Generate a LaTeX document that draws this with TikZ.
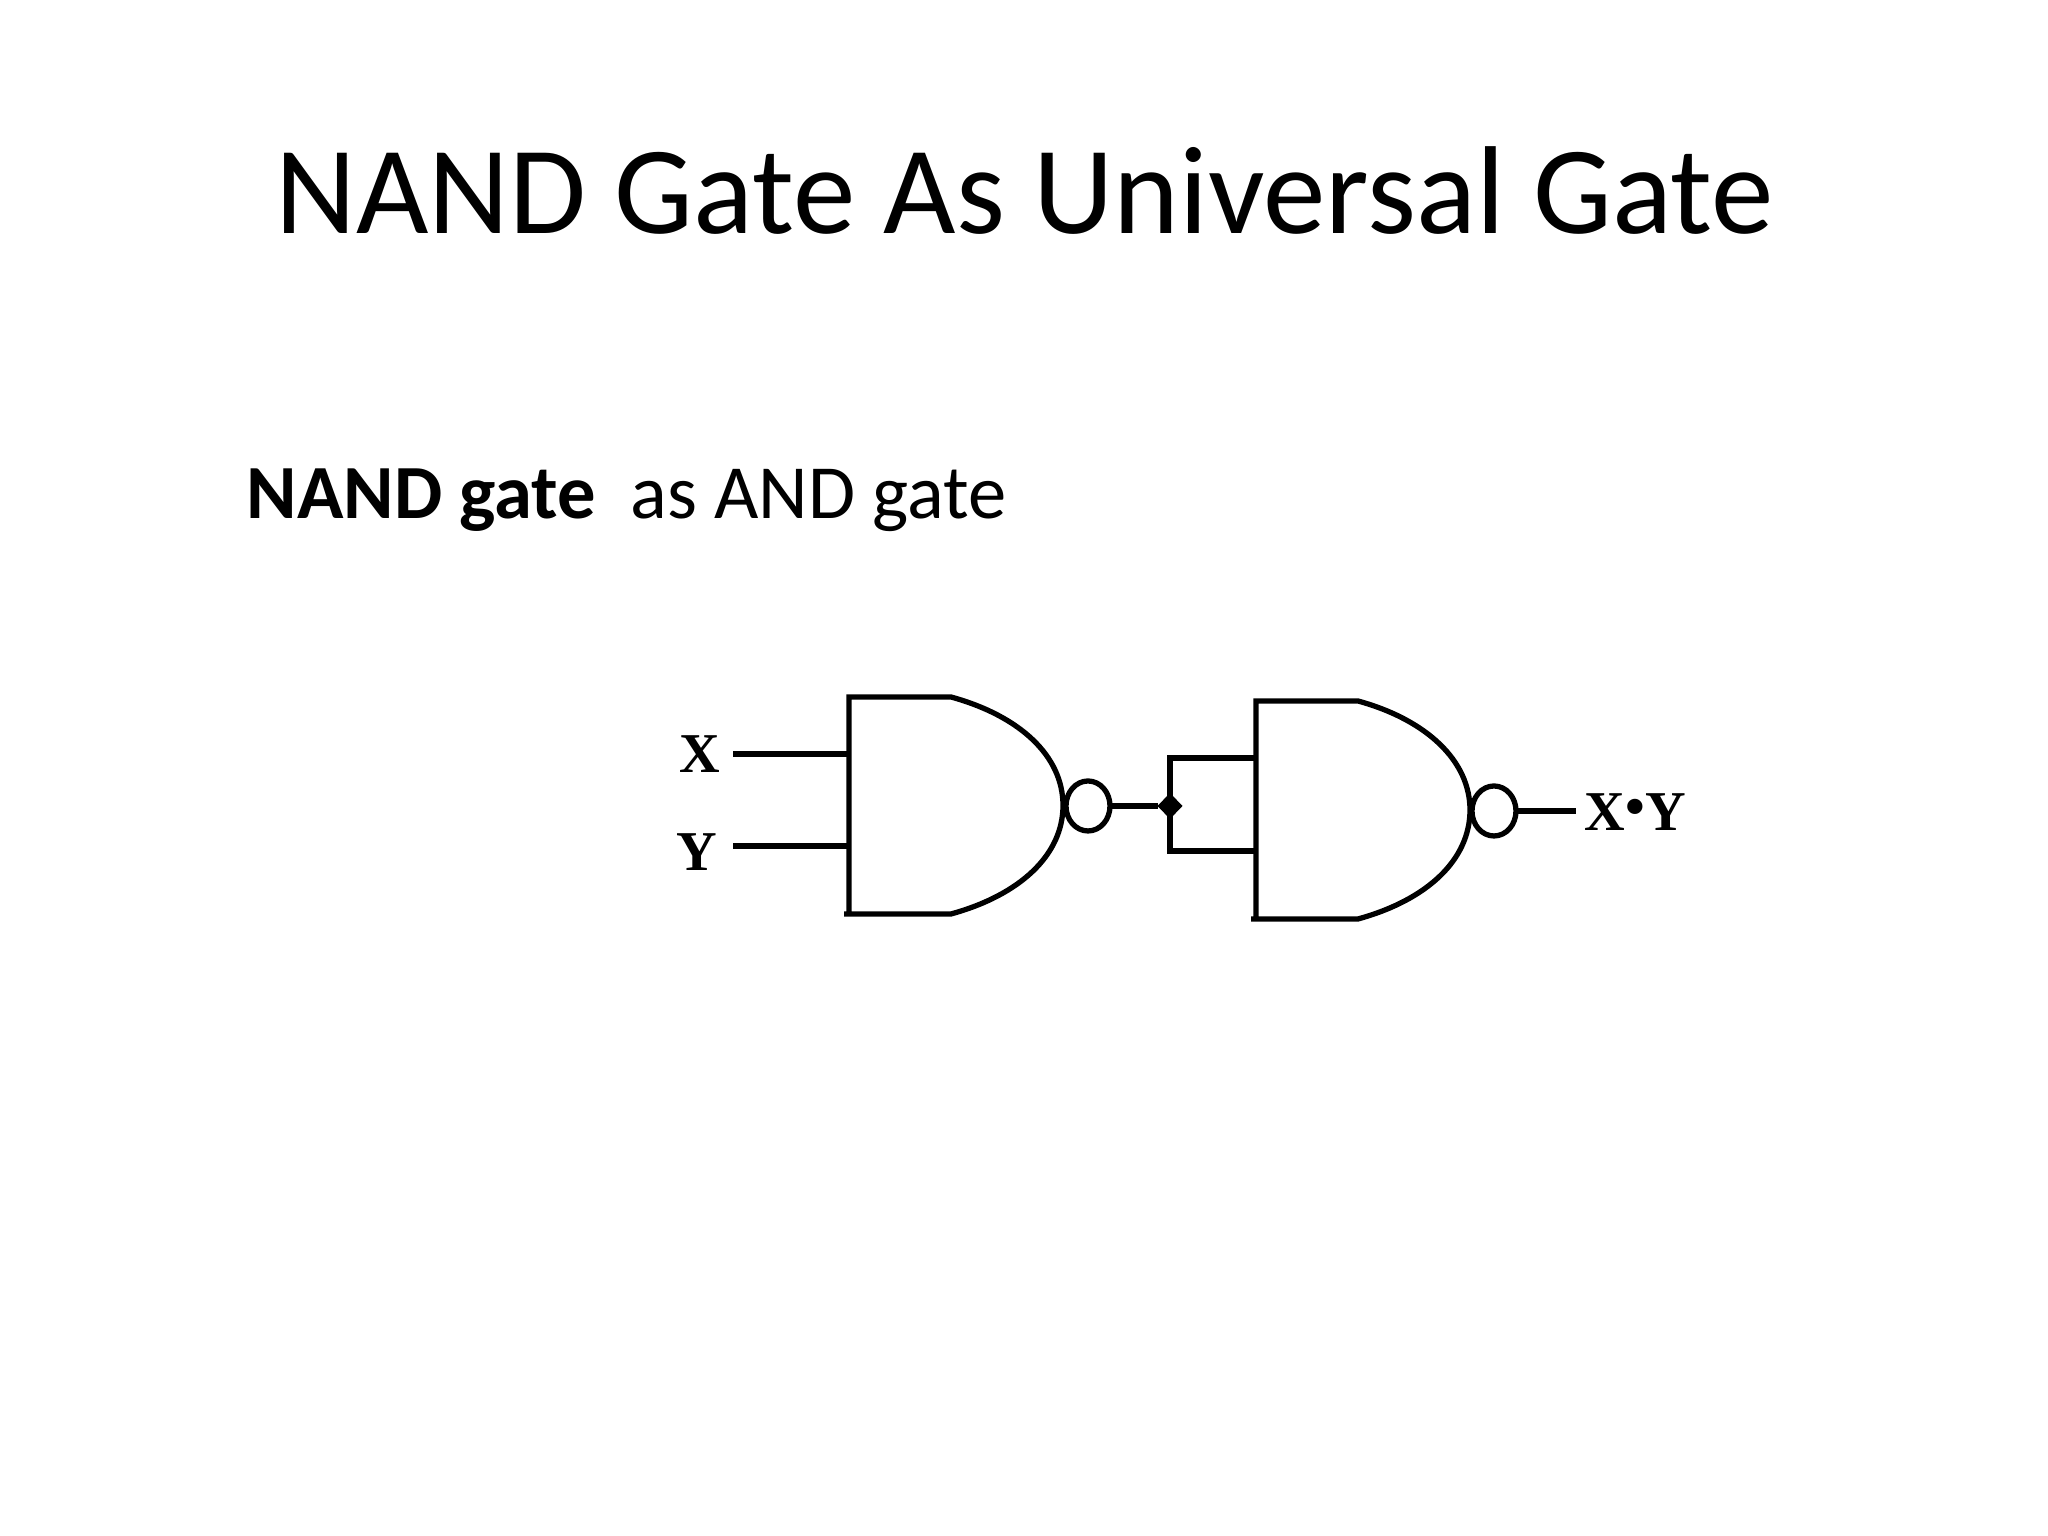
\documentclass[tikz,border=0pt]{standalone}
\usepackage{fontspec}
\setmainfont{Carlito}
\newfontfamily\gatefont{Liberation Serif}
\usetikzlibrary{calc}
\usetikzlibrary{shapes.geometric}
\tikzset{
	wire/.style={line width=1.5pt, line join=miter},
	bubble/.style={draw, ellipse, line width=1.5pt, minimum width=4.4mm, minimum height=5.0mm, inner sep=0pt, outer sep=0pt},
	joint/.style={fill=black, diamond, minimum width=2.5mm, minimum height=2.6mm, inner sep=0pt, outer sep=0pt},
	pinlabel/.style={font=\gatefont\bfseries\fontsize{16}{16}\selectfont, inner sep=0pt}
}
\begin{document}
\begin{tikzpicture}
	\useasboundingbox (0,0) rectangle (20.48,15.36);

	\node[font=\fontsize{35.6}{40}\selectfont, anchor=base] (title) at (10.245,13.02) {NAND Gate As Universal Gate};
	\node[font=\fontsize{21.8}{26}\selectfont, anchor=base west, inner sep=0pt] (subtitle) at (2.46,10.17) {\textbf{NAND gate}\ \ as AND gate};

	% First gate
	\coordinate (Atl) at (8.49,8.39);
	\coordinate (Abl) at (8.49,6.22);
	\coordinate (Abo) at (8.44,6.22);
	\coordinate (Atc) at (9.51,8.39);
	\coordinate (Abc) at (9.51,6.22);
	\coordinate (Atip) at (10.63,7.305);
	\draw[wire] (Abo) -- (Abc) .. controls (10.2,6.41) and (10.63,6.81) .. (Atip)
		.. controls (10.63,7.8) and (10.2,8.2) .. (Atc) -- (Atl) -- (Abl);
	\node[bubble] (Anot) at (10.88,7.30) {};

	% Inputs of the first gate
	\coordinate (Xin) at (7.33,7.82);
	\coordinate (Yin) at (7.33,6.90);
	\coordinate (Xpin) at (8.49,7.82);
	\coordinate (Ypin) at (8.49,6.90);
	\node[pinlabel] (Xlab) at (7.00,7.82) {X};
	\node[pinlabel] (Ylab) at (6.97,6.84) {Y};
	\draw[wire] (Xin) -- (Xpin);
	\draw[wire] (Yin) -- (Ypin);

	% Second gate
	\coordinate (Btl) at (12.56,8.35);
	\coordinate (Bbl) at (12.56,6.17);
	\coordinate (Bbo) at (12.51,6.17);
	\coordinate (Btc) at (13.58,8.35);
	\coordinate (Bbc) at (13.58,6.17);
	\coordinate (Btip) at (14.70,7.26);
	\draw[wire] (Bbo) -- (Bbc) .. controls (14.27,6.36) and (14.70,6.76) .. (Btip)
		.. controls (14.70,7.75) and (14.27,8.16) .. (Btc) -- (Btl) -- (Bbl);
	\node[bubble] (Bnot) at (14.94,7.25) {};

	% Tied inputs of the second gate
	\node[joint] (J) at (11.70,7.30) {};
	\coordinate (Jt) at (11.70,7.78);
	\coordinate (Jb) at (11.70,6.85);
	\coordinate (Bt) at (12.56,7.78);
	\coordinate (Bb) at (12.56,6.85);
	\draw[wire] (Anot) -- (J);
	\draw[wire] (Bt) -- (Jt) -- (Jb) -- (Bb);

	% Output
	\node[pinlabel, anchor=west] (Zlab) at (15.84,7.24) {X\raisebox{0.2ex}{•}Y};
	\coordinate (Zout) at (15.76,7.25);
	\draw[wire] (Bnot) -- (Zout);
\end{tikzpicture}
\end{document}
